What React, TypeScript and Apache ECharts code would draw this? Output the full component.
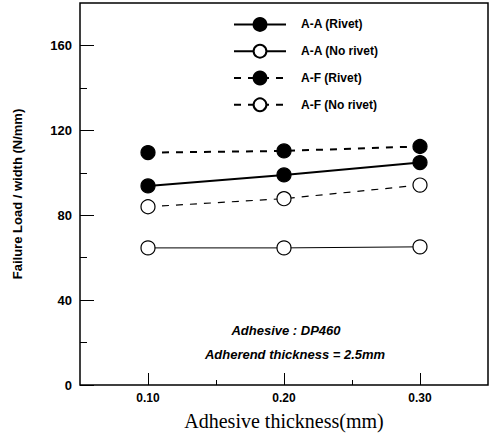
import React, { useEffect, useRef } from "react";
import * as echarts from "echarts";

const thickness = [0.1, 0.2, 0.3];
const aaRivet = [93.8, 99.0, 104.8];
const aaNoRivet = [64.6, 64.6, 65.1];
const afRivet = [109.5, 110.3, 112.4];
const afNoRivet = [84.0, 87.8, 94.2];
const yMajor = [0, 40, 80, 120, 160];
const yMinor = [20, 60, 100, 140];
const xMajor = [0.1, 0.2, 0.3];
const xMinor = [0.15, 0.25];

const seriesNames = ["A-A (Rivet)", "A-A (No rivet)", "A-F (Rivet)", "A-F (No rivet)"];

export default function App() {
  const ref = useRef<HTMLDivElement>(null);
  useEffect(() => {
    if (!ref.current) return;
    const chart = echarts.init(ref.current, undefined, { renderer: "svg" });
    const pair = (ys: number[]) => thickness.map((x, i) => [x, ys[i]]);
    const lbl = { fontFamily: "Liberation Sans, Arial, sans-serif", fontWeight: "bold" as const, fontSize: 12.5, color: "#000" };
    const axisBase = {
      type: "value" as const,
      axisLine: { show: false },
      splitLine: { show: false },
    };
    const mk = (name: string, data: number[], filled: boolean, dashed: boolean, width: number) => ({
      name,
      type: "line",
      xAxisIndex: 0,
      yAxisIndex: 0,
      data: pair(data),
      symbol: "circle",
      symbolSize: 14,
      itemStyle: { color: filled ? "#000" : "#fff", borderColor: "#000", borderWidth: 1.2 },
      lineStyle: { color: "#000", width, type: dashed ? [7, 7] : "solid" },
      z: 3,
    });
    chart.setOption({
      animation: false,
      backgroundColor: "#fff",
      grid: {
        left: 80, right: 7, top: 3, bottom: 52, show: true, borderColor: "#000", borderWidth: 1.5,
        backgroundColor: "transparent", containLabel: false, outerBoundsMode: "none",
      },
      legend: {
        orient: "vertical",
        left: 228,
        top: 12,
        itemWidth: 52,
        itemHeight: 16,
        itemGap: 12,
        data: seriesNames,
        textStyle: { ...lbl, fontSize: 12, padding: [0, 0, 0, 10] },
      },
      xAxis: [
        {
          ...axisBase,
          position: "bottom",
          min: 0.05,
          max: 0.35,
          interval: 0.05,
          axisTick: { show: true, inside: true, length: 5, customValues: xMinor, lineStyle: { color: "#000" } },
          axisLabel: { show: false },
          name: "Adhesive thickness(mm)",
          nameLocation: "middle",
          nameGap: 26,
          nameTextStyle: { fontFamily: "Liberation Serif, Times New Roman, serif", fontSize: 20, color: "#000" },
        },
        {
          ...axisBase,
          position: "bottom",
          offset: 0,
          min: 0.05,
          max: 0.35,
          interval: 0.05,
          axisTick: { show: true, inside: true, length: 12, customValues: xMajor, lineStyle: { color: "#000" } },
          axisLabel: { ...lbl, fontSize: 12, margin: 7, customValues: xMajor, formatter: (v: number) => v.toFixed(2) },
        },
      ],
      yAxis: [
        {
          ...axisBase,
          position: "left",
          min: 0,
          max: 180,
          interval: 20,
          axisTick: { show: true, inside: true, length: 14, customValues: yMajor, lineStyle: { color: "#000" } },
          axisLabel: { ...lbl, fontSize: 13, margin: 8, customValues: yMajor },
          name: "Failure Load / width (N/mm)",
          nameLocation: "middle",
          nameGap: 56,
          nameTextStyle: { ...lbl, fontSize: 13, color: "#000" },
        },
        {
          ...axisBase,
          position: "left",
          offset: 0,
          min: 0,
          max: 180,
          interval: 20,
          axisTick: { show: true, inside: true, length: 7, customValues: yMinor, lineStyle: { color: "#000" } },
          axisLabel: { show: false },
        },
      ],
      graphic: [
        {
          type: "text",
          x: 286,
          y: 330,
          style: {
            text: "Adhesive : DP460", font: "italic bold 13px Liberation Sans, Arial, sans-serif", fill: "#000",
            align: "center", verticalAlign: "middle",
          },
        },
        {
          type: "text",
          x: 295,
          y: 354,
          style: {
            text: "Adherend thickness = 2.5mm", font: "italic bold 13px Liberation Sans, Arial, sans-serif", fill: "#000",
            align: "center", verticalAlign: "middle",
          },
        },
      ],
      series: [
        mk(seriesNames[0], aaRivet, true, false, 2),
        mk(seriesNames[1], aaNoRivet, false, false, 1),
        mk(seriesNames[2], afRivet, true, true, 2),
        mk(seriesNames[3], afNoRivet, false, true, 1.2),
      ],
    });
    return () => chart.dispose();
  }, []);
  return <div ref={ref} style={{ width: 495, height: 437, position: "absolute", left: 0, top: 0 }} />;
}
